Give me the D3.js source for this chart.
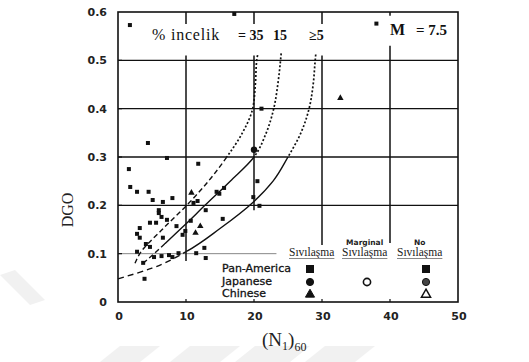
<!DOCTYPE html>
<html>
<head>
<meta charset="utf-8">
<script src="https://cdn.jsdelivr.net/npm/d3@7"></script>
<style>
  body { margin: 0; background: #fff; }
  svg { display: block; }
</style>
</head>
<body>
<div id="chart"></div>
<script>
// data: (N1)60 vs DGO
var panAmerica = [
  [1.75,0.573],[17.1,0.596],[38.0,0.576],[21.1,0.40],[4.4,0.329],[7.2,0.298],
  [1.6,0.275],[11.8,0.286],[1.8,0.238],[2.8,0.228],[4.5,0.228],[5.1,0.211],
  [6.6,0.207],[8.0,0.215],[11.1,0.205],[11.7,0.209],[14.5,0.228],[14.9,0.224],
  [15.6,0.236],[12.9,0.19],[6.0,0.19],[6.0,0.184],[6.4,0.176],[7.2,0.17],
  [4.7,0.164],[5.6,0.164],[8.6,0.157],[3.2,0.153],[10.7,0.168],[6.6,0.133],
  [2.8,0.141],[3.2,0.133],[9.5,0.139],[9.9,0.147],[15.4,0.172],[20.5,0.25],
  [19.9,0.217],[20.8,0.199],[2.8,0.104],[4.7,0.114],[5.3,0.093],[6.4,0.095],
  [8.0,0.093],[8.9,0.101],[11.5,0.101],[12.7,0.112],[12.9,0.091],[3.7,0.081],
  [3.9,0.048],[4.1,0.12],[7.5,0.097]
];
var japanese = [[20.0,0.315]];
var chinese = [[32.7,0.422],[10.8,0.226],[12.1,0.157],[11.4,0.143]];

// boundary curves for fines content
var fines35 = [[2.5,0.08],[3.2,0.1],[6.5,0.15],[10.1,0.2],[13.3,0.25],[16,0.3],[18.3,0.35],[19.8,0.4],[20.2,0.45],[20.4,0.5],[20.6,0.515]];
var fines15 = [[3.7,0.08],[5.3,0.1],[9.5,0.155],[12.8,0.2],[16.5,0.25],[20,0.3],[21.8,0.35],[22.9,0.4],[23.5,0.45],[23.9,0.5],[24.0,0.515]];
var fines5 = [[0,0.048],[5,0.07],[10,0.104],[15,0.152],[20,0.208],[22.8,0.25],[25,0.3],[26.9,0.35],[28.1,0.4],[28.7,0.45],[29,0.5],[29.1,0.515]];

var xTicks = [0,10,20,30,40,50];
var yTicks = [0,0.1,0.2,0.3,0.4,0.5,0.6];

var width = 529, height = 362;
var svg = d3.select("#chart").append("svg")
  .attr("width", width)
  .attr("height", height);

// faint watermark bands
var marks = [[[100,362],[120,346],[160,346],[140,362]],[[170,362],[190,346],[240,346],[220,362]],
  [[235,362],[255,346],[310,346],[290,362]],[[305,362],[325,346],[375,346],[355,362]],
  [[0,275],[15,270],[45,300],[30,305]]];
svg.selectAll("polygon.wm").data(marks).enter().append("polygon")
  .attr("class", "wm")
  .attr("points", function(d) { return d.join(" "); })
  .attr("fill", "#f1f1f1");

var x = d3.scaleLinear().domain([0, 50]).range([118, 458]);
var y = d3.scaleLinear().domain([0, 0.6]).range([302, 12]);

var g = svg.append("g");

// horizontal grid
g.selectAll("line.hg").data([0.2,0.3,0.4,0.5]).enter().append("line")
  .attr("x1", x(0)).attr("x2", x(50))
  .attr("y1", function(d) { return y(d); }).attr("y2", function(d) { return y(d); })
  .attr("stroke", "#111").attr("stroke-width", 1.4);
g.append("line")
  .attr("x1", x(0)).attr("x2", x(23.3))
  .attr("y1", y(0.1)).attr("y2", y(0.1))
  .attr("stroke", "#888").attr("stroke-width", 1);

// vertical grid, broken round the label row
var vSegs = [[10,0.6,0.575],[10,0.51,0.085],[20,0.6,0.575],[20,0.51,0.19],
  [30,0.6,0.575],[30,0.51,0.118],[40,0.6,0.592],[40,0.53,0.122]];
g.selectAll("line.vg").data(vSegs).enter().append("line")
  .attr("x1", function(d) { return x(d[0]); }).attr("x2", function(d) { return x(d[0]); })
  .attr("y1", function(d) { return y(d[1]); }).attr("y2", function(d) { return y(d[2]); })
  .attr("stroke", "#111").attr("stroke-width", 1.5);

// small inward ticks
g.selectAll("line.xt").data([10,20,30,40]).enter().append("line")
  .attr("x1", function(d) { return x(d); }).attr("x2", function(d) { return x(d); })
  .attr("y1", y(0)).attr("y2", y(0) - 3)
  .attr("stroke", "#111").attr("stroke-width", 1.2);
g.selectAll("line.yt").data([0.1,0.2,0.3,0.4,0.5]).enter().append("line")
  .attr("x1", x(0)).attr("x2", x(0) + 4)
  .attr("y1", function(d) { return y(d); }).attr("y2", function(d) { return y(d); })
  .attr("stroke", "#111").attr("stroke-width", 1.2);

// frame
g.append("rect")
  .attr("x", x(0)).attr("y", y(0.6))
  .attr("width", x(50) - x(0)).attr("height", y(0) - y(0.6))
  .attr("fill", "none").attr("stroke", "#111").attr("stroke-width", 1.6);

// tick labels
g.selectAll("text.xl").data(xTicks).enter().append("text")
  .attr("x", function(d) { return x(d) + 1; }).attr("y", 320)
  .attr("text-anchor", "middle")
  .style("font", "bold 11px 'DejaVu Sans'").attr("fill", "#222")
  .text(function(d) { return d; });
g.selectAll("text.yl").data(yTicks).enter().append("text")
  .attr("x", 107).attr("y", function(d) { return y(d) + 4; })
  .attr("text-anchor", "end")
  .style("font", "bold 11px 'DejaVu Sans'").attr("fill", "#222")
  .text(function(d) { return d === 0 ? "0" : d3.format(".1f")(d); });

// axis titles
g.append("text")
  .attr("transform", "translate(73,210) rotate(-90)")
  .attr("text-anchor", "middle")
  .style("font", "16px 'Liberation Serif'").attr("fill", "#222")
  .text("DGO");
var xt = g.append("text").attr("x", 262).attr("y", 346)
  .style("font", "19px 'Liberation Serif'").attr("fill", "#222");
xt.append("tspan").text("(N");
xt.append("tspan").attr("dy", 4).style("font-size", "12px").text("1");
xt.append("tspan").attr("dy", -4).text(")");
xt.append("tspan").attr("dy", 5).style("font-size", "12px").text("60");

// curves, style changes by DGO band
var line = d3.line()
  .x(function(d) { return x(d[0]); })
  .y(function(d) { return y(d[1]); })
  .curve(d3.curveMonotoneY);

var defs = svg.append("defs");
var curves = [
  { pts: fines35, bands: [[0, 0.3, "5,3"], [0.3, 0.6, "2,2"]] },
  { pts: fines15, bands: [[0, 0.12, "5,3"], [0.12, 0.3, null], [0.3, 0.6, "2,2"]] },
  { pts: fines5, bands: [[0, 0.104, "6,4"], [0.104, 0.3, null], [0.3, 0.6, "2,2"]] }
];
curves.forEach(function(c, i) {
  c.bands.forEach(function(b, j) {
    var id = "clip" + i + "_" + j;
    defs.append("clipPath").attr("id", id).append("rect")
      .attr("x", 0).attr("width", width)
      .attr("y", y(b[1])).attr("height", y(b[0]) - y(b[1]));
    g.append("path")
      .datum(c.pts)
      .attr("d", line)
      .attr("clip-path", "url(#" + id + ")")
      .attr("fill", "none")
      .attr("stroke", "#111")
      .attr("stroke-width", b[2] === "2,2" ? 1.7 : 1.4)
      .attr("stroke-dasharray", b[2]);
  });
});

// label row
var lab = g.append("g").attr("fill", "#111");
lab.append("text").attr("x", 152).attr("y", 40)
  .style("font", "16px 'Liberation Serif'").style("letter-spacing", "0.8px")
  .text("% incelik");
lab.append("text").attr("x", 238).attr("y", 40)
  .style("font", "bold 14px 'Liberation Serif'").text("= 35");
lab.append("text").attr("x", 273).attr("y", 40)
  .style("font", "bold 14px 'Liberation Serif'").text("15");
lab.append("text").attr("x", 309).attr("y", 40)
  .style("font", "bold 14px 'Liberation Serif'").text("≥5");
lab.append("text").attr("x", 390).attr("y", 35)
  .style("font", "bold 16px 'Liberation Serif'").text("M");
lab.append("text").attr("x", 416).attr("y", 35)
  .style("font", "bold 15px 'Liberation Serif'").text("= 7.5");

// data points
g.selectAll("rect.pa").data(panAmerica).enter().append("rect")
  .attr("x", function(d) { return x(d[0]) - 2; })
  .attr("y", function(d) { return y(d[1]) - 2; })
  .attr("width", 4).attr("height", 4).attr("fill", "#111");
g.selectAll("circle.jp").data(japanese).enter().append("circle")
  .attr("cx", function(d) { return x(d[0]); })
  .attr("cy", function(d) { return y(d[1]); })
  .attr("r", 3.2).attr("fill", "#111");
var tri = d3.symbol().type(d3.symbolTriangle).size(18);
g.selectAll("path.cn").data(chinese).enter().append("path")
  .attr("transform", function(d) { return "translate(" + x(d[0]) + "," + y(d[1]) + ")"; })
  .attr("d", tri).attr("fill", "#111");

// legend
var lg = g.append("g");
var heads = [
  { x: 289, top: null, text: "Sıvılaşma" },
  { x: 342, top: "Marginal", text: "Sıvılaşma" },
  { x: 397, top: "No", text: "Sıvılaşma" }
];
heads.forEach(function(h) {
  var t = lg.append("text").attr("x", h.x).attr("y", 256)
    .style("font", "11.5px 'Liberation Serif'").attr("fill", "#222").text(h.text);
  var w = t.node().getComputedTextLength();
  lg.append("line").attr("x1", h.x).attr("x2", h.x + w)
    .attr("y1", 258.5).attr("y2", 258.5).attr("stroke", "#888").attr("stroke-width", 1);
  if (h.top) {
    lg.append("text").attr("x", h.x + w / 2).attr("y", 245)
      .attr("text-anchor", "middle")
      .style("font", "bold 7.5px 'DejaVu Sans'").attr("fill", "#222").text(h.top);
  }
});
var groups = ["Pan-America", "Japanese", "Chinese"];
var rowY = [272, 284.5, 296.5];
lg.selectAll("text.gr").data(groups).enter().append("text")
  .attr("x", 222).attr("y", function(d, i) { return rowY[i]; })
  .style("font", "11px 'DejaVu Sans'").attr("fill", "#111")
  .attr("stroke", "#111").attr("stroke-width", 0.3)
  .text(function(d) { return d; });

function legendMark(kind, cx, cy, filled, grey) {
  var fill = filled ? (grey ? "#444" : "#111") : "#fff";
  if (kind === "sq") {
    lg.append("rect").attr("x", cx - 3.5).attr("y", cy - 3.5).attr("width", 7).attr("height", 7)
      .attr("fill", fill).attr("stroke", "#111").attr("stroke-width", 1);
  } else if (kind === "ci") {
    lg.append("circle").attr("cx", cx).attr("cy", cy).attr("r", 3.6)
      .attr("fill", fill).attr("stroke", "#111").attr("stroke-width", filled ? 1 : 1.6);
  } else {
    lg.append("path").attr("transform", "translate(" + cx + "," + (cy + 0.5) + ")")
      .attr("d", d3.symbol().type(d3.symbolTriangle).size(36))
      .attr("fill", fill).attr("stroke", "#111").attr("stroke-width", filled ? 1 : 1.5);
  }
}
legendMark("sq", 310, 269, true);
legendMark("ci", 310, 282, true);
legendMark("tr", 310, 294, true);
legendMark("ci", 367, 282, false);
legendMark("sq", 426, 269, true);
legendMark("ci", 426, 282, true, true);
legendMark("tr", 426, 294, false);
</script>
</body>
</html>
